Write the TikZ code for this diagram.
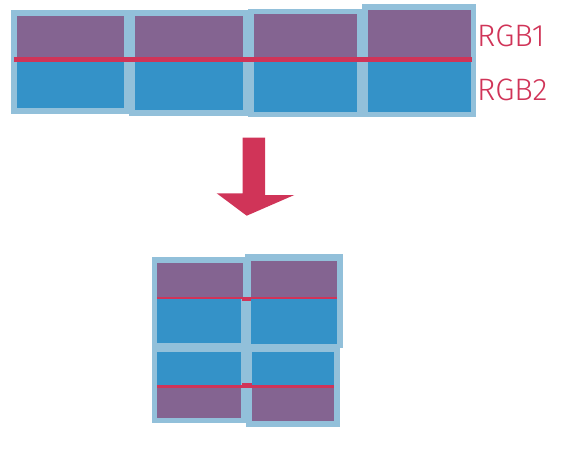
\documentclass[tikz,border=0pt]{standalone}
\usepackage{fontspec}
\setmainfont{Fira Sans Light}
\definecolor{framec}{RGB}{146,192,218}
\definecolor{purplec}{RGB}{132,100,145}
\definecolor{bluec}{RGB}{52,146,200}
\definecolor{redc}{RGB}{208,52,88}
\tikzset{
  frame/.style={fill=framec},
  upcell/.style={fill=purplec},
  lowcell/.style={fill=bluec},
  redfill/.style={fill=redc},
  redline/.style={draw=redc},
  lbl/.style={text=redc, font=\fontsize{31}{31}\selectfont, anchor=base west, inner sep=0pt}
}
\begin{document}
\begin{tikzpicture}[x=1pt,y=-1pt]
\useasboundingbox (0,0) rectangle (568,451);
% ---- top row ----
\fill[frame] (10.9,10) rectangle (129.3,114.3);
\fill[frame] (129.3,10) rectangle (248.1,116);
\fill[frame] (248.1,9.3) rectangle (362.2,117.3);
\fill[frame] (362.2,4.3) rectangle (476.3,117.3);
\fill[upcell] (17,15.7) rectangle (124.2,59.3);
\fill[lowcell] (17,59.3) rectangle (124.2,108.3);
\fill[upcell] (135.1,15.7) rectangle (242.7,59.3);
\fill[lowcell] (135.1,59.3) rectangle (242.7,110);
\fill[upcell] (253.5,14.3) rectangle (356.8,59.3);
\fill[lowcell] (253.5,59.3) rectangle (356.8,111.7);
\fill[upcell] (367.6,10) rectangle (470.8,59.3);
\fill[lowcell] (367.6,59.3) rectangle (470.8,111.7);
\coordinate (rl1) at (13.8,59.3);
\coordinate (rl2) at (471.9,59.3);
\draw[redline, line width=5pt] (rl1) -- (rl2);
\node[lbl] (rgb1) at (477,46.7) {RGB1};
\node[lbl] (rgb2) at (477,100.7) {RGB2};
% ---- arrow ----
\fill[redfill] (242.7,137.7) -- (265,137.7) -- (265,195) -- (294.3,195)
  -- (246.7,215.7) -- (216.7,193.3) -- (242.7,193.3) -- cycle;
% ---- bottom grid ----
\fill[frame] (151.7,257.3) rectangle (245,346.7);
\fill[frame] (245,254.3) rectangle (343.3,348.3);
\fill[frame] (151.7,346.7) rectangle (246,423.3);
\fill[frame] (246,348.3) rectangle (340,426.7);
\fill[upcell] (157.3,263.3) rectangle (242.7,297.7);
\fill[lowcell] (157.3,297.7) rectangle (241,342.7);
\fill[upcell] (250.7,260.7) rectangle (337.3,297.7);
\fill[lowcell] (250.7,297.7) rectangle (337.3,344);
\fill[lowcell] (157.3,351.7) rectangle (241,386);
\fill[upcell] (157.3,386) rectangle (241,417.7);
\fill[lowcell] (252,351.7) rectangle (334.3,386);
\fill[upcell] (252,386) rectangle (334.3,421);
\coordinate (ra1) at (157.3,297.9);
\coordinate (ra2) at (337.3,297.9);
\coordinate (rb1) at (157.3,386.2);
\coordinate (rb2) at (334.3,386.2);
\draw[redline, line width=2.6pt] (ra1) -- (ra2);
\draw[redline, line width=2.6pt] (rb1) -- (rb2);
\fill[redfill] (241.7,297.3) rectangle (250.7,300.7);
\fill[redfill] (241.7,383.3) rectangle (251.7,387.7);
\end{tikzpicture}
\end{document}
